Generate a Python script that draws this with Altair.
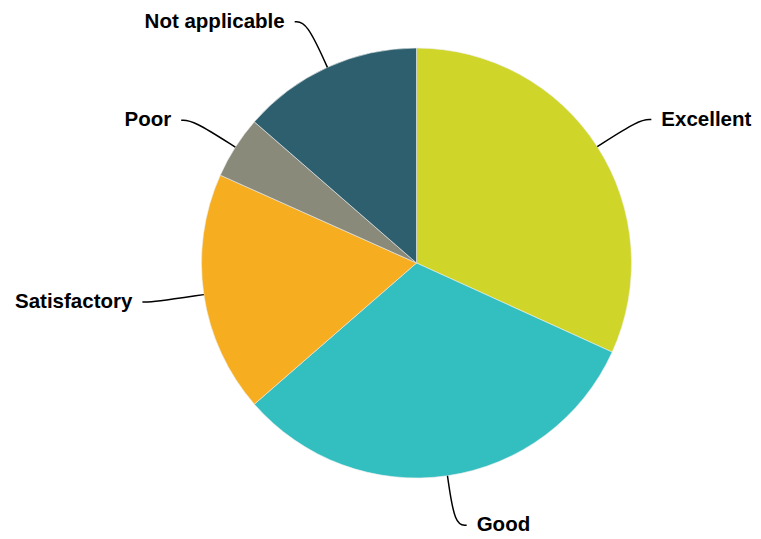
import altair as alt
import pandas as pd

categories = ["Excellent", "Good", "Satisfactory", "Poor", "Not applicable"]
values = [31.8, 31.8, 18.1, 4.7, 13.6]
colors = ["#CFD629", "#33BEC0", "#F6AE20", "#898A7A", "#2E5F6E"]

df = pd.DataFrame({"category": categories, "value": values, "idx": list(range(len(categories)))})

CX, CY, R, RL, D, TD = 408.5, 255, 215, 265, 12, 10

base = alt.Chart(df).transform_joinaggregate(
    total="sum(value)"
).transform_window(
    cum="sum(value)", sort=[alt.SortField("idx")], frame=[None, 0]
).transform_calculate(
    mid="2*PI*(datum.cum - datum.value/2)/datum.total",
    side="sin(datum.mid) >= 0 ? 1 : -1",
    lx=f"{CX} + {RL}*sin(datum.mid) + datum.side*{D}",
    ly=f"{CY} - {RL}*cos(datum.mid)",
)

pie = alt.Chart(df).mark_arc(outerRadius=R, stroke="#eeeeee", strokeWidth=0.6).encode(
    theta=alt.Theta("value:Q", stack=True),
    color=alt.Color("category:N", scale=alt.Scale(domain=categories, range=colors), legend=None, sort=categories),
    order=alt.Order("idx:Q"),
    x=alt.value(CX),
    y=alt.value(CY),
)

lines = base.transform_calculate(
    pts="[0,1,2]"
).transform_flatten(["pts"]).transform_calculate(
    rr=f"datum.pts == 0 ? {R} : {RL}",
    px=f"{CX} + datum.rr*sin(datum.mid) + (datum.pts == 2 ? datum.side*{D} : 0)",
    py=f"{CY} - datum.rr*cos(datum.mid)",
).mark_line(color="black", strokeWidth=1.5, interpolate="basis").encode(
    x=alt.X("px:Q", scale=None),
    y=alt.Y("py:Q", scale=None),
    detail="category:N",
    order="pts:Q",
)

font = "Liberation Sans"
FS = 20.5
right_text = base.transform_filter("datum.side > 0").transform_calculate(
    tx=f"datum.lx + {TD}"
).mark_text(align="left", baseline="middle", fontWeight="bold", fontSize=FS, font=font, color="black").encode(
    x=alt.X("tx:Q", scale=None), y=alt.Y("ly:Q", scale=None), text="category:N"
)
left_text = base.transform_filter("datum.side < 0").transform_calculate(
    tx=f"datum.lx - {TD}"
).mark_text(align="right", baseline="middle", fontWeight="bold", fontSize=FS, font=font, color="black").encode(
    x=alt.X("tx:Q", scale=None), y=alt.Y("ly:Q", scale=None), text="category:N"
)

chart = alt.layer(pie, lines, right_text, left_text).properties(
    width=745, height=531, padding=0, autosize=alt.AutoSizeParams(type="none")
).configure_view(stroke=None)

chart.save("out.html", embed_options={"renderer": "svg", "actions": False})
